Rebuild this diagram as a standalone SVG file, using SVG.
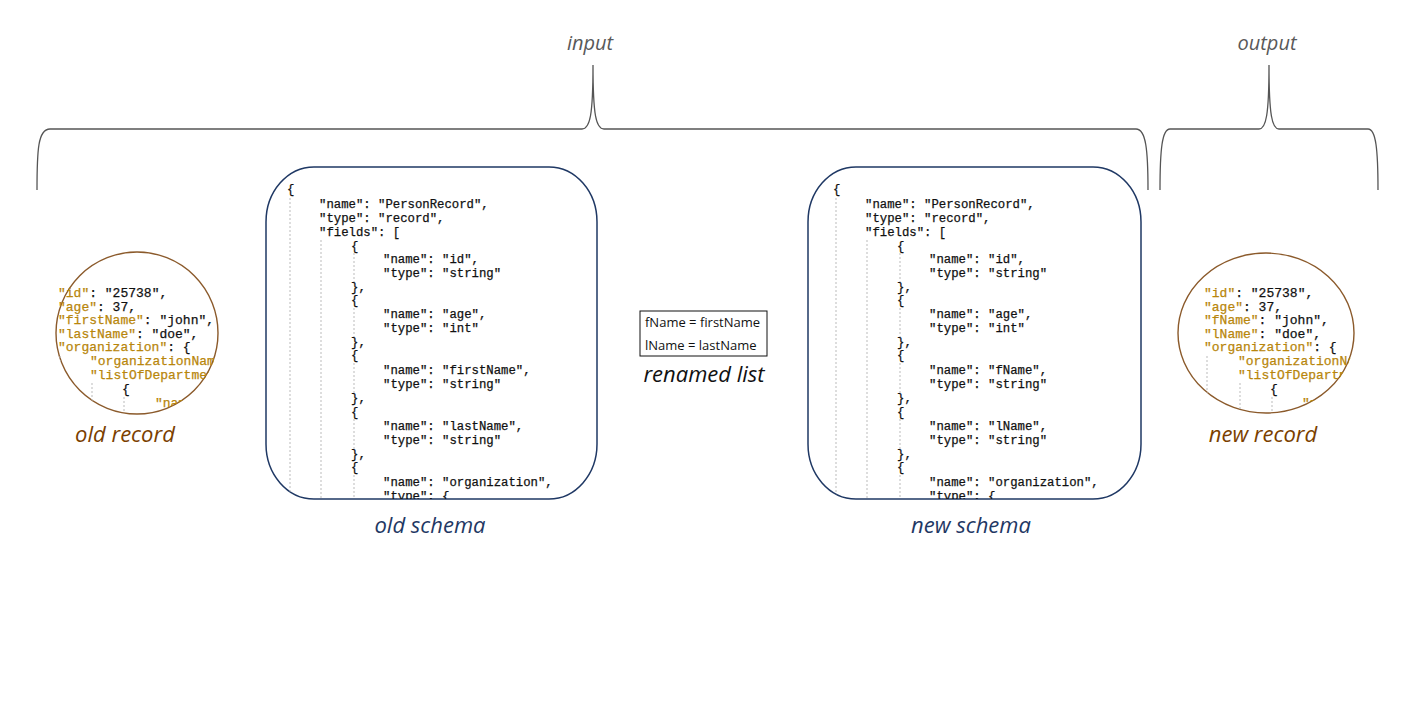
<svg xmlns="http://www.w3.org/2000/svg" width="1408" height="720" viewBox="0 0 1408 720">
<style>
.brace{fill:none;stroke:#555;stroke-width:1.3}
.box{fill:#fff;stroke:#1F3864;stroke-width:1.5}
.rec{fill:#fff;stroke:#8B5A2B;stroke-width:1.4}
.code{font-family:"Liberation Mono","Courier New",monospace;font-size:12.3px;fill:#111;stroke:#111;stroke-width:0.25}
.rcode{font-family:"Liberation Mono","Courier New",monospace;font-size:13px;fill:#111;stroke:#111;stroke-width:0.25}
.k{fill:#B8860B;stroke:#B8860B}
.guide{stroke:#bbb;stroke-width:1;stroke-dasharray:2 2;fill:none}
.lbl{font-family:"Open Sans","Noto Sans",sans-serif;font-style:italic;font-size:22px;text-anchor:middle}
.top{font-family:"Open Sans","Noto Sans",sans-serif;font-style:italic;font-size:20px;fill:#595959;text-anchor:middle}
.ren{font-family:"Open Sans","Noto Sans",sans-serif;font-size:13px;fill:#111}
</style>
<defs>
<clipPath id="cOldSchema"><rect x="266" y="167" width="331" height="332" rx="48" ry="55"/></clipPath>
<clipPath id="cNewSchema"><rect x="808" y="167" width="333" height="332" rx="48" ry="55"/></clipPath>
<clipPath id="cOldRec"><ellipse cx="137" cy="333" rx="82" ry="81"/><rect x="52" y="283" width="85" height="72"/></clipPath>
<clipPath id="cNewRec"><ellipse cx="1266" cy="333" rx="89" ry="80"/></clipPath>
</defs>
<rect width="1408" height="720" fill="#fff"/>

<g id="connectors">
<path class="brace" d="M37,190 C37,150 38,129 50,129 L582,129 C590,129 593,115 593,65 C593,115 596,129 604,129 L1136,129 C1146,129 1148,150 1148,190"/>
<path class="brace" d="M1160,190 C1160,150 1162,129 1170,129 L1259,129 C1266,129 1269,115 1269,65 C1269,115 1272,129 1279,129 L1368,129 C1376,129 1378,150 1378,190"/>
</g>

<g id="input-label"><text class="top" x="590" y="50">input</text></g>
<g id="output-label"><text class="top" x="1267" y="50">output</text></g>

<g id="old-record">
<ellipse class="rec" cx="137" cy="333" rx="81" ry="81"/>
<g clip-path="url(#cOldRec)">
<line class="guide" x1="60" y1="356" x2="60" y2="386"/>
<line class="guide" x1="92" y1="383" x2="92" y2="404"/>
<line class="guide" x1="124" y1="397" x2="124" y2="416"/>
<text class="rcode" x="58" y="297"><tspan class="k">"id"</tspan>: "25738",</text>
<text class="rcode" x="58" y="310.5"><tspan class="k">"age"</tspan>: 37,</text>
<text class="rcode" x="58" y="324"><tspan class="k">"firstName"</tspan>: "john",</text>
<text class="rcode" x="58" y="337.5"><tspan class="k">"lastName"</tspan>: "doe",</text>
<text class="rcode" x="58" y="351"><tspan class="k">"organization"</tspan>: {</text>
<text class="rcode" x="90" y="365"><tspan class="k">"organizationName"</tspan></text>
<text class="rcode" x="90" y="379"><tspan class="k">"listOfDepartments"</tspan></text>
<text class="rcode" x="122" y="393">{</text>
<text class="rcode" x="155" y="407"><tspan class="k">"name"</tspan></text>
</g>
<text class="lbl" x="125" y="442" fill="#7B3F00">old record</text>
</g>

<g id="old-schema">
<rect class="box" x="266" y="167" width="331" height="332" rx="48" ry="55"/>
<g clip-path="url(#cOldSchema)">
<line class="guide" x1="290" y1="198" x2="290" y2="500"/>
<line class="guide" x1="321" y1="240" x2="321" y2="500"/>
<line class="guide" x1="354" y1="253" x2="354" y2="285"/>
<line class="guide" x1="354" y1="308" x2="354" y2="340"/>
<line class="guide" x1="354" y1="363" x2="354" y2="395"/>
<line class="guide" x1="354" y1="419" x2="354" y2="451"/>
<line class="guide" x1="354" y1="475" x2="354" y2="500"/>
<text class="code" x="287" y="193">{</text>
<text class="code" x="319" y="208">"name": "PersonRecord",</text>
<text class="code" x="319" y="222">"type": "record",</text>
<text class="code" x="319" y="236">"fields": [</text>
<text class="code" x="351" y="250">{</text>
<text class="code" x="383" y="263">"name": "id",</text>
<text class="code" x="383" y="277">"type": "string"</text>
<text class="code" x="351" y="291">},</text>
<text class="code" x="351" y="304">{</text>
<text class="code" x="383" y="318">"name": "age",</text>
<text class="code" x="383" y="332">"type": "int"</text>
<text class="code" x="351" y="346">},</text>
<text class="code" x="351" y="359">{</text>
<text class="code" x="383" y="374">"name": "firstName",</text>
<text class="code" x="383" y="388">"type": "string"</text>
<text class="code" x="351" y="402">},</text>
<text class="code" x="351" y="416">{</text>
<text class="code" x="383" y="430">"name": "lastName",</text>
<text class="code" x="383" y="444">"type": "string"</text>
<text class="code" x="351" y="458">},</text>
<text class="code" x="351" y="471">{</text>
<text class="code" x="383" y="486">"name": "organization",</text>
<text class="code" x="383" y="500">"type": {</text>
</g>
<text class="lbl" x="430" y="533" fill="#1F3864">old schema</text>
</g>

<g id="renamed-list">
<rect x="640" y="311" width="127" height="45" fill="#fff" stroke="#111" stroke-width="1"/>
<text class="ren" x="645" y="327">fName = firstName</text>
<text class="ren" x="645" y="350">lName = lastName</text>
<text class="lbl" x="704" y="382" fill="#111">renamed list</text>
</g>

<g id="new-schema">
<rect class="box" x="808" y="167" width="333" height="332" rx="48" ry="55"/>
<g clip-path="url(#cNewSchema)">
<line class="guide" x1="836" y1="198" x2="836" y2="500"/>
<line class="guide" x1="867" y1="240" x2="867" y2="500"/>
<line class="guide" x1="900" y1="253" x2="900" y2="285"/>
<line class="guide" x1="900" y1="308" x2="900" y2="340"/>
<line class="guide" x1="900" y1="363" x2="900" y2="395"/>
<line class="guide" x1="900" y1="419" x2="900" y2="451"/>
<line class="guide" x1="900" y1="475" x2="900" y2="500"/>
<text class="code" x="833" y="193">{</text>
<text class="code" x="865" y="208">"name": "PersonRecord",</text>
<text class="code" x="865" y="222">"type": "record",</text>
<text class="code" x="865" y="236">"fields": [</text>
<text class="code" x="897" y="250">{</text>
<text class="code" x="929" y="263">"name": "id",</text>
<text class="code" x="929" y="277">"type": "string"</text>
<text class="code" x="897" y="291">},</text>
<text class="code" x="897" y="304">{</text>
<text class="code" x="929" y="318">"name": "age",</text>
<text class="code" x="929" y="332">"type": "int"</text>
<text class="code" x="897" y="346">},</text>
<text class="code" x="897" y="359">{</text>
<text class="code" x="929" y="374">"name": "fName",</text>
<text class="code" x="929" y="388">"type": "string"</text>
<text class="code" x="897" y="402">},</text>
<text class="code" x="897" y="416">{</text>
<text class="code" x="929" y="430">"name": "lName",</text>
<text class="code" x="929" y="444">"type": "string"</text>
<text class="code" x="897" y="458">},</text>
<text class="code" x="897" y="471">{</text>
<text class="code" x="929" y="486">"name": "organization",</text>
<text class="code" x="929" y="500">"type": {</text>
</g>
<text class="lbl" x="971" y="533" fill="#1F3864">new schema</text>
</g>

<g id="new-record">
<ellipse class="rec" cx="1266" cy="333" rx="88" ry="80"/>
<g clip-path="url(#cNewRec)">
<line class="guide" x1="1207" y1="356" x2="1207" y2="400"/>
<line class="guide" x1="1240" y1="383" x2="1240" y2="416"/>
<line class="guide" x1="1272" y1="397" x2="1272" y2="416"/>
<text class="rcode" x="1204" y="297"><tspan class="k">"id"</tspan>: "25738",</text>
<text class="rcode" x="1204" y="310.5"><tspan class="k">"age"</tspan>: 37,</text>
<text class="rcode" x="1204" y="324"><tspan class="k">"fName"</tspan>: "john",</text>
<text class="rcode" x="1204" y="337.5"><tspan class="k">"lName"</tspan>: "doe",</text>
<text class="rcode" x="1204" y="351"><tspan class="k">"organization"</tspan>: {</text>
<text class="rcode" x="1238" y="365"><tspan class="k">"organizationName"</tspan></text>
<text class="rcode" x="1238" y="379"><tspan class="k">"listOfDepartments"</tspan></text>
<text class="rcode" x="1270" y="393">{</text>
<text class="rcode" x="1302" y="407"><tspan class="k">"name"</tspan></text>
</g>
<text class="lbl" x="1263" y="442" fill="#7B3F00">new record</text>
</g>
</svg>
